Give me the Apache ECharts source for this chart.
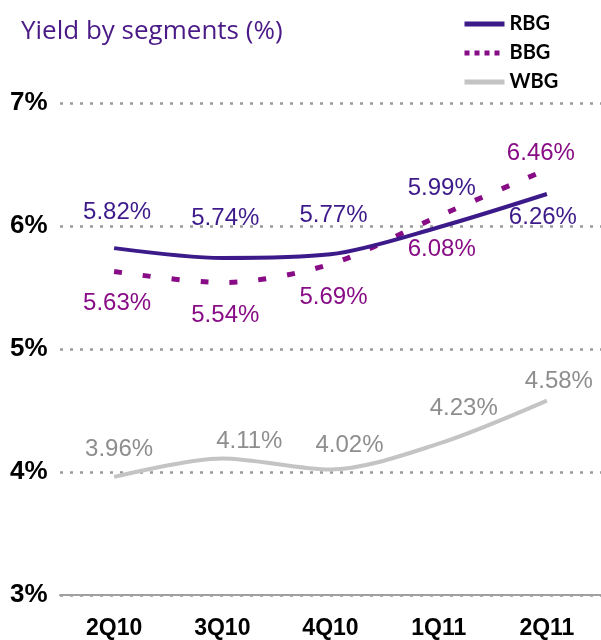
<!DOCTYPE html>
<html><head><meta charset="utf-8">
<script src="https://cdn.jsdelivr.net/npm/echarts@6/dist/echarts.min.js"></script>
<style>html,body{margin:0;padding:0;background:#fff}#c{width:601px;height:640px}</style>
</head><body><div id="c"></div>
<script>
var categories = ['2Q10', '3Q10', '4Q10', '1Q11', '2Q11'];
var rbg = [5.82, 5.74, 5.77, 5.99, 6.26];
var bbg = [5.63, 5.54, 5.69, 6.08, 6.46];
var wbg = [3.96, 4.11, 4.02, 4.23, 4.58];
var yTicks = [3, 4, 5, 6, 7];

var RBG_C = '#3d1a8a', BBG_C = '#880c85', WBG_C = '#c4c4c4';
var LAB_FONT = 'Liberation Sans, Arial';

function dataWithLabels(vals, offsets, color) {
  return vals.map(function (v, i) {
    return {value: v, label: {show: true, position: 'top', offset: offsets[i], distance: 0, color: color,
      fontFamily: LAB_FONT, fontSize: 24,
      formatter: function (p) { return p.value.toFixed(2) + '%'; }}};
  });
}

var chart = echarts.init(document.getElementById('c'));
chart.setOption({
  animation: false,
  title: {text: 'Yield by segments (%)', left: 16, top: 14,
    textStyle: {color: '#4a1a86', fontFamily: 'Open Sans', fontSize: 26, fontWeight: 'normal'}},
  legend: {
    orient: 'vertical', left: 462, top: 14, padding: 0, itemWidth: 40, itemHeight: 10, itemGap: 9,
    textStyle: {color: '#000', fontFamily: 'Lato', fontSize: 20, fontWeight: 'bold'},
    itemStyle: {opacity: 0},
    data: [
      {name: 'RBG', lineStyle: {width: 5, type: 'solid', color: RBG_C}},
      {name: 'BBG', lineStyle: {width: 5, type: [5, 5], color: BBG_C}},
      {name: 'WBG', lineStyle: {width: 5, type: 'solid', color: WBG_C}}
    ]
  },
  grid: {left: 60, right: -8, top: 103, bottom: 45},
  xAxis: {
    type: 'category', data: categories, boundaryGap: true,
    axisLine: {show: true, lineStyle: {color: '#a0a0a0', width: 2}},
    axisTick: {show: false},
    axisLabel: {color: '#000', fontFamily: LAB_FONT, fontSize: 23, fontWeight: 'bold', margin: 22}
  },
  yAxis: {
    type: 'value', min: 3, max: 7, interval: 1,
    axisLine: {show: false}, axisTick: {show: false},
    axisLabel: {color: '#000', fontFamily: LAB_FONT, fontSize: 26, fontWeight: 'bold', margin: 50, align: 'left',
      formatter: function (v) { return yTicks.indexOf(v) >= 0 ? v + '%' : ''; }},
    splitLine: {show: true, lineStyle: {color: '#999', width: 2.5, type: [3, 7]}}
  },
  series: [
    {name: 'RBG', type: 'line', smooth: 0.3, symbol: 'circle', symbolSize: 0.1, showSymbol: true, z: 3,
      lineStyle: {color: RBG_C, width: 4}, itemStyle: {color: RBG_C},
      data: dataWithLabels(rbg, [[3, -24], [3, -28], [3, -27], [3, -27], [-4, 35]], RBG_C)},
    {name: 'BBG', type: 'line', smooth: 0.3, symbol: 'circle', symbolSize: 0.1, showSymbol: true, z: 2,
      lineStyle: {color: BBG_C, width: 5, type: [8, 21]}, itemStyle: {color: BBG_C},
      data: dataWithLabels(bbg, [[3, 44], [3, 45], [3, 45], [3, 45], [-6, -4]], BBG_C)},
    {name: 'WBG', type: 'line', smooth: 0.3, symbol: 'circle', symbolSize: 0.1, showSymbol: true, z: 1,
      lineStyle: {color: WBG_C, width: 4}, itemStyle: {color: WBG_C},
      data: dataWithLabels(wbg, [[5, -15], [27, -5], [19, -12], [25, -23], [12, -7]], '#8e8e8e')}
  ]
});
</script></body></html>
